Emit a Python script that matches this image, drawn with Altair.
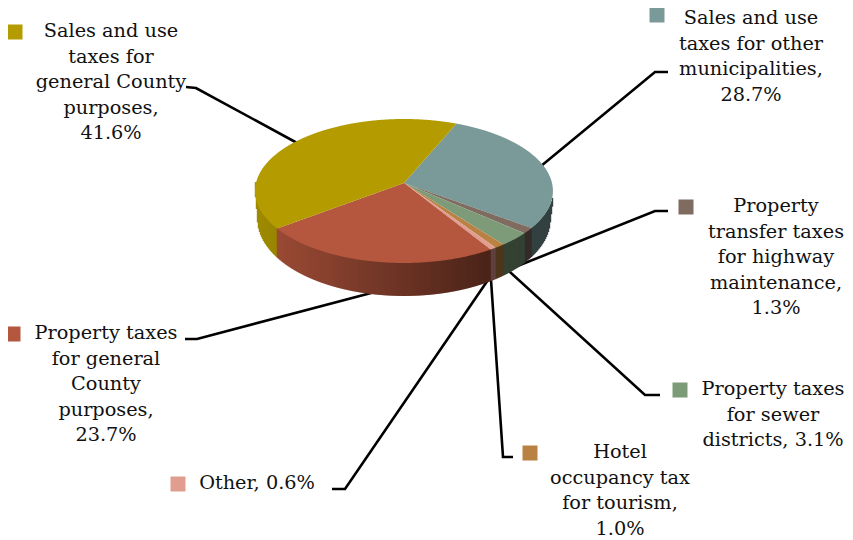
import math
import altair as alt
import pandas as pd

# ---- values (clockwise from the first slice)
categories = ["Sales and use taxes for other municipalities",
              "Property transfer taxes for highway maintenance",
              "Property taxes for sewer districts",
              "Hotel occupancy tax for tourism",
              "Other",
              "Property taxes for general County purposes",
              "Sales and use taxes for general County purposes"]
shares = [28.7, 1.3, 3.1, 1.0, 0.6, 23.7, 41.6]
colors = ["#7A9999", "#7F6B60", "#7D9B78", "#B98242", "#E09D90", "#B5573E", "#B39B00"]

label_lines = [
    "Sales and use\ntaxes for other\nmunicipalities,\n28.7%",
    "Property\ntransfer taxes\nfor highway\nmaintenance,\n1.3%",
    "Property taxes\nfor sewer\ndistricts, 3.1%",
    "Hotel\noccupancy tax\nfor tourism,\n1.0%",
    "Other, 0.6%",
    "Property taxes\nfor general\nCounty\npurposes,\n23.7%",
    "Sales and use\ntaxes for\ngeneral County\npurposes,\n41.6%",
]
label_x = [751, 776, 773, 620, 257, 106, 111]
label_y = [18, 206, 389, 452, 483, 333, 31]
key_x = [657, 686, 680, 530, 178, 13, 15]
key_y = [15, 207, 390, 453, 484, 334, 32]
leaders_x = [[535, 655, 668], [515, 655, 668], [500, 645, 660], [490, 503, 513],
             [490, 345, 332], [390, 197, 185], [310, 196, 186]]
leaders_y = [[171, 72, 72], [267, 211, 211], [263, 395, 395], [265, 457, 457],
             [277, 489, 489], [288, 339, 339], [150, 88, 87]]

# ---- pie geometry (perspective-tilted disc)
CX, CY = 404, 183
R, S, K = 148, 71.1, 0.111
START = 23.0
BOTTOM_SCALE = 0.985


def project(deg):
    a = math.radians(deg)
    X, Yb = math.sin(a), math.cos(a)
    w = 1 + K * Yb
    return CX + R * X / w, CY - S * Yb / w


def interp(p, q, x):
    if q[0] == p[0]:
        return p[1]
    return p[1] + (q[1] - p[1]) * (x - p[0]) / (q[0] - p[0])


top_rows = []
wall_rows = []
edges = []
a0 = START
for name, share, col in zip(categories, shares, colors):
    a1 = a0 + share * 3.6
    edges.append((a0, a1, col))
    n = max(4, int(share * 8))
    poly = [(CX, CY)] + [project(a0 + (a1 - a0) * i / n) for i in range(n + 1)]
    lo, hi = min(p[0] for p in poly), max(p[0] for p in poly)
    xs = sorted(set([p[0] for p in poly] + [float(v) for v in range(250, 560) if lo < v < hi]))
    segs = list(zip(poly, poly[1:] + poly[:1]))
    for x in xs:
        ys = [interp(p, q, x) for p, q in segs if min(p[0], q[0]) - 1e-9 <= x <= max(p[0], q[0]) + 1e-9]
        top_rows.append({"slice": name, "x": x, "y": min(ys), "y2": max(ys), "fill": col})
    a0 = a1


def shade(hexcol, f):
    r, g, b = (int(hexcol[i:i + 2], 16) for i in (1, 3, 5))
    return "#%02x%02x%02x" % (int(r * f), int(g * f), int(b * f))


# side wall: walk the front rim from right edge to left edge
steps = 1500
rim = {}
bottom = []
for i in range(steps + 1):
    deg = 90 + 180 * i / steps
    x, y = project(deg)
    rim[int(x)] = (x, y, deg)
    front = -math.cos(math.radians(deg))
    bottom.append((CX + (x - CX) * BOTTOM_SCALE, y + 27 + 6 * front))
bottom.sort()
b_lo, b_hi = bottom[0][0], bottom[-1][0]


def bottom_y(x, top_y):
    if x <= b_lo:
        return top_y + max(0.0, bottom[0][1] - top_y) * (1 - (b_lo - x) / 3)
    if x >= b_hi:
        return top_y + max(0.0, bottom[-1][1] - top_y) * (1 - (x - b_hi) / 3)
    for p, q in zip(bottom, bottom[1:]):
        if p[0] <= x <= q[0]:
            return interp(p, q, x)
    return top_y


for ix in sorted(rim):
    x, y, deg = rim[ix]
    d = deg
    while d < START:
        d += 360
    while d >= START + 360:
        d -= 360
    col = next(c for s, e, c in edges if s <= d < e)
    t = min(1.0, max(0.0, (ix - 255) / (487 - 255)))
    f = 0.90 - 0.48 * t
    wall_rows.append({"x": ix - 0.2, "x2": ix + 1.2, "y": y - 1, "y2": bottom_y(ix + 0.5, y),
                      "fill": shade(col, f)})

top = pd.DataFrame(top_rows)
wall = pd.DataFrame(wall_rows)

line_rows = []
for name, lx, ly in zip(categories, leaders_x, leaders_y):
    for i, (x, y) in enumerate(zip(lx, ly)):
        line_rows.append({"slice": name, "i": i, "x": x, "y": y})
lines = pd.DataFrame(line_rows)

labels = pd.DataFrame({"label": label_lines, "x": label_x, "y": label_y})
keys = pd.DataFrame({"x": key_x, "y": key_y, "fill": colors})

xs = alt.Scale(domain=[8, 845])
ys = alt.Scale(domain=[538, 8])
X = alt.X("x:Q", scale=xs, axis=None)
Y = alt.Y("y:Q", scale=ys, axis=None)

line_layer = alt.Chart(lines).mark_line(color="black", strokeWidth=2.6).encode(
    x=X, y=Y, detail="slice:N", order="i:Q")
wall_layer = alt.Chart(wall).mark_rect().encode(
    x=X, x2="x2:Q", y=Y, y2="y2:Q", fill=alt.Fill("fill:N", scale=None))
top_layers = [
    alt.Chart(top[top["slice"] == name]).mark_area(color=col, opacity=1, fillOpacity=1).encode(
        x=X, y=Y, y2="y2:Q")
    for name, col in zip(categories, colors)
]
key_layer = alt.Chart(keys).mark_square(size=225, opacity=1).encode(
    x=X, y=Y, fill=alt.Fill("fill:N", scale=None))
text_layer = alt.Chart(labels).mark_text(
    font="DejaVu Serif", fontSize=19.3, lineHeight=25.5, lineBreak="\n",
    align="center", baseline="middle", color="#111111").encode(
    x=X, y=Y, text="label:N")

chart = alt.layer(line_layer, wall_layer, *top_layers, key_layer, text_layer).properties(
    width=837, height=530, padding=0, autosize=alt.AutoSizeParams(type="none"),
    background="white").configure_view(stroke=None)
chart.save("out.html", embed_options={"renderer": "svg", "actions": False})
